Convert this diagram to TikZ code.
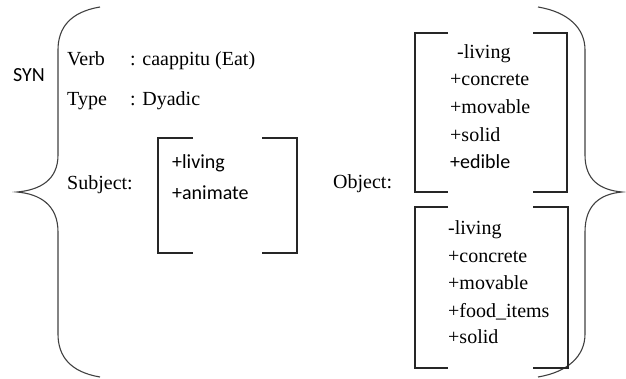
\documentclass[tikz,border=0pt]{standalone}
\usepackage{fontspec}
\setmainfont{Liberation Serif}
\newfontfamily\featsans{Carlito}
\usepackage{tikz}
\tikzset{
  lbl/.style={anchor=base west,inner sep=0pt,font=\fontsize{20}{20}\selectfont},
  slbl/.style={anchor=base west,inner sep=0pt,font=\featsans\fontsize{20}{20}\selectfont},
  brk/.style={line width=1.3pt,black!85},
  brc/.style={line width=1.1pt,black!75}
}
\begin{document}
\begin{tikzpicture}[x=1pt,y=-1pt]
\useasboundingbox (0,0) rectangle (626,379);
% braces
\draw [brc] (100,7) .. controls (70,12) and (58,28) .. (58,50) -- (58,155)
  .. controls (58,180) and (40,190) .. (17,192)
  .. controls (40,194) and (58,205) .. (58,232) -- (58,334)
  .. controls (58,356) and (70,372) .. (100,377);
\draw [brc] (538,7) .. controls (568,12) and (585,28) .. (585,50) -- (585,155)
  .. controls (585,180) and (600,190) .. (622,192)
  .. controls (600,194) and (585,205) .. (585,232) -- (585,334)
  .. controls (585,356) and (568,372) .. (538,377);
\node [slbl] (syn) at (13,82) {SYN};
% verb and type
\node [lbl] (verb) at (67,66) {Verb};
\node [lbl] (verbv) at (130,66) {: caappitu (Eat)};
\node [lbl] (type) at (67,106) {Type};
\node [lbl] (typev) at (130,106) {: Dyadic};
% subject
\node [lbl] (subj) at (67,190) {Subject:};
\draw [brk] (193,138) -- (158,138) -- (158,253) -- (193,253);
\draw [brk] (262,138) -- (297,138) -- (297,253) -- (262,253);
\node [slbl] (s1) at (172,169) {+living};
\node [slbl] (s2) at (172,200) {+animate};
% object
\node [lbl] (obj) at (333,189) {Object:};
\draw [brk] (448,33) -- (415,33) -- (415,192) -- (448,192);
\draw [brk] (533,33) -- (567,33) -- (567,192) -- (533,192);
\node [lbl] (a1) at (457,59) {-living};
\node [lbl] (a2) at (450,86) {+concrete};
\node [lbl] (a3) at (450,114) {+movable};
\node [lbl] (a4) at (450,142) {+solid};
\node [slbl] (a5) at (450,169) {+edible};
\draw [brk] (448,207) -- (415,207) -- (415,368) -- (448,368);
\draw [brk] (533,207) -- (568,207) -- (568,368) -- (533,368);
\node [lbl] (b1) at (448,235) {-living};
\node [lbl] (b2) at (448,262) {+concrete};
\node [lbl] (b3) at (448,289) {+movable};
\node [lbl] (b4) at (448,317) {+food\_items};
\node [lbl] (b5) at (448,343) {+solid};
\end{tikzpicture}
\end{document}
